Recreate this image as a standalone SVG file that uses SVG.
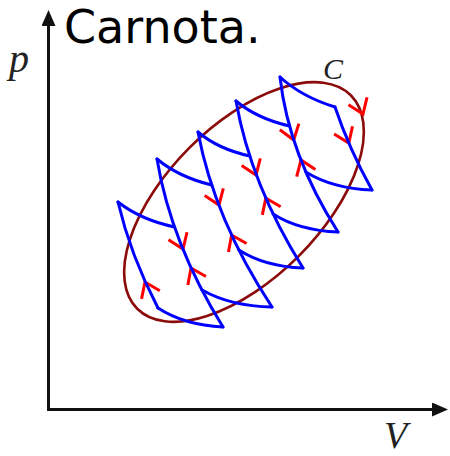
<svg xmlns="http://www.w3.org/2000/svg" xmlns:xlink="http://www.w3.org/1999/xlink" width="450" height="456" viewBox="0 0 450 456">
  <style>
    .axis { fill: none; stroke: #111; stroke-width: 3; }
    .loop { fill: none; stroke: #8b0a0a; stroke-width: 2.6; }
    .blue { fill: none; stroke: #0000ff; stroke-width: 3; stroke-linejoin: round; stroke-linecap: round; }
    .red { fill: none; stroke: #ff0000; stroke-width: 3; stroke-linecap: butt; }
    .title { font-family: "DejaVu Sans", Verdana, sans-serif; font-size: 46px; fill: #000; }
    .var { font-family: "Liberation Serif", "DejaVu Serif", serif; font-style: italic; fill: #222; }
  </style>
  <defs>
    <marker id="axhead" viewBox="0 0 16 14" refX="2" refY="7" markerWidth="16" markerHeight="14" markerUnits="userSpaceOnUse" orient="auto">
      <path d="M0,0 L16,7 L0,14 z" fill="#111"/>
    </marker>
    <path id="ah" class="red" d="M-14,-10 L0,0 L-14,10"/>
  </defs>

  <rect width="450" height="456" fill="#fff"/>

  <g id="title">
    <text class="title" x="64" y="43">Carnota.</text>
  </g>

  <g id="axes">
    <path class="axis" d="M48.5,410 V24" marker-end="url(#axhead)"/>
    <path class="axis" d="M47,409.5 H434" marker-end="url(#axhead)"/>
    <text class="var" x="9" y="72" font-size="40">p</text>
    <text class="var" x="384" y="448" font-size="38">V</text>
  </g>

  <g id="cycle-C">
    <ellipse class="loop" cx="244" cy="202" rx="151" ry="77" transform="rotate(-45 244 202)"/>
    <text class="var" x="323" y="79" font-size="30">C</text>
  </g>

  <g id="arrows">
    <use href="#ah" transform="translate(363,114) rotate(68)"/>
    <use href="#ah" transform="translate(145,282) rotate(-114)"/>
    <use href="#ah" transform="translate(183,249) rotate(68)"/>
    <use href="#ah" transform="translate(191,268) rotate(-115)"/>
    <use href="#ah" transform="translate(219,205) rotate(69)"/>
    <use href="#ah" transform="translate(231.6,235) rotate(-115)"/>
    <use href="#ah" transform="translate(256,175) rotate(69)"/>
    <use href="#ah" transform="translate(265.8,198) rotate(-114)"/>
    <use href="#ah" transform="translate(293.7,140) rotate(72)"/>
    <use href="#ah" transform="translate(301,160) rotate(-111)"/>
    <use href="#ah" transform="translate(348.8,143) rotate(67)"/>
  </g>

  <g id="adiabats">
    <path class="blue" d="M118,202 Q130.4,255 158,308"/>
    <path class="blue" d="M157,159 Q170.9,243 223,327"/>
    <path class="blue" d="M198,132 Q214.4,219.5 272,307"/>
    <path class="blue" d="M236,101 Q250.7,184.5 303,268"/>
    <path class="blue" d="M280,77 Q288.6,154.5 338,232"/>
    <path class="blue" d="M335,107 Q348.9,148.5 372,190"/>
  </g>

  <g id="carnot-1">
    <path class="blue" d="M118,202 Q140.7,219.7 174.5,227"/>
    <path class="blue" d="M158,308 Q184.1,325 223,327"/>
  </g>
  <g id="carnot-2">
    <path class="blue" d="M157,159 Q178.6,177 211.7,185"/>
    <path class="blue" d="M202,290 Q231,306.3 272,307"/>
  </g>
  <g id="carnot-3">
    <path class="blue" d="M198,132 Q218.2,149.1 249.8,156"/>
    <path class="blue" d="M238.9,250 Q264.7,266.6 303,268"/>
  </g>
  <g id="carnot-4">
    <path class="blue" d="M236,101 Q257.1,118.6 289.5,126"/>
    <path class="blue" d="M273.1,214 Q299.3,230.6 338,232"/>
  </g>
  <g id="carnot-5">
    <path class="blue" d="M280,77 Q301.5,96.7 335,107"/>
    <path class="blue" d="M305.8,172 Q332.7,188.6 372,190"/>
  </g>
</svg>
